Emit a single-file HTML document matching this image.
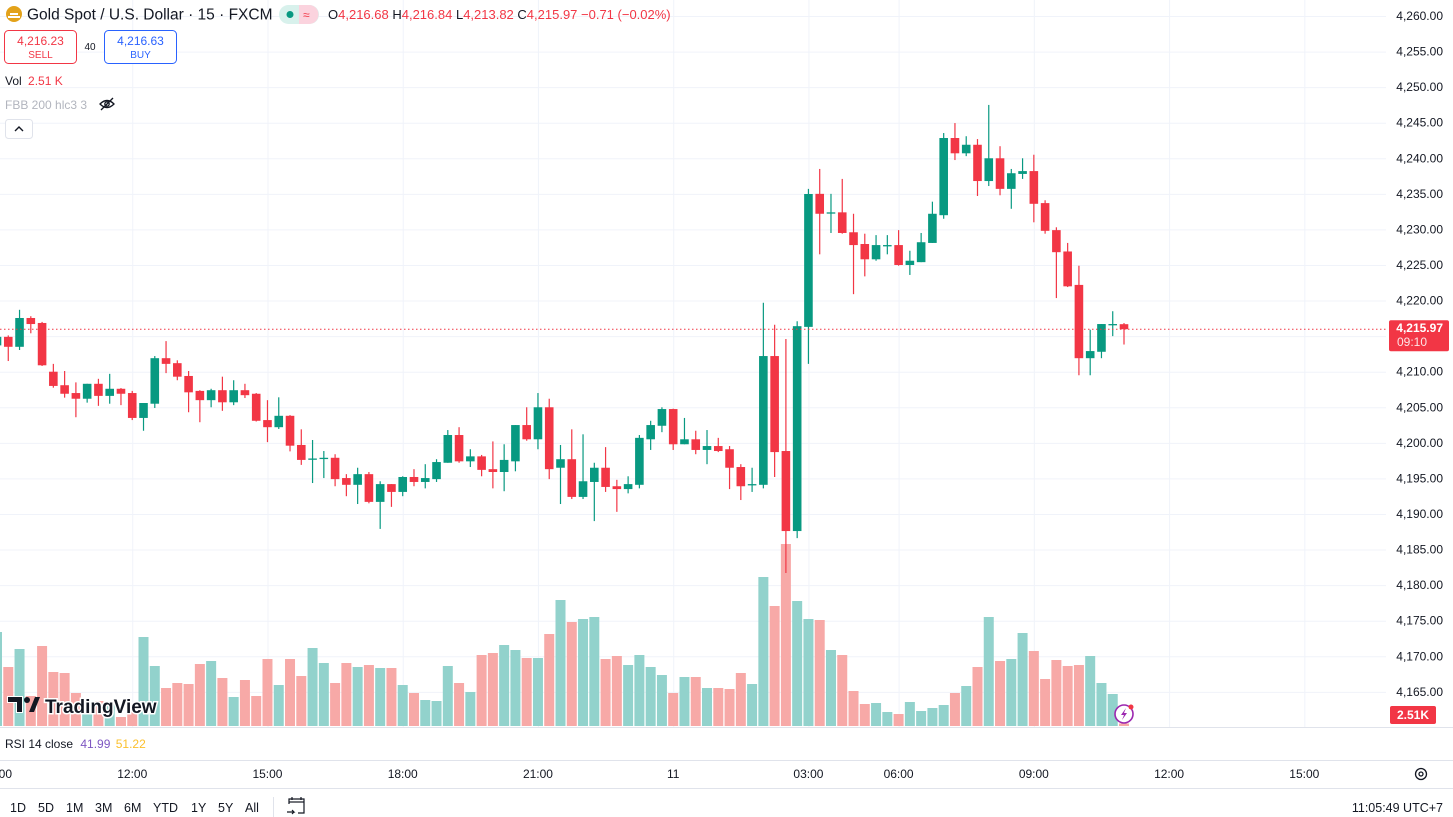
<!DOCTYPE html>
<html><head><meta charset="utf-8"><style>
html,body{margin:0;padding:0;background:#fff;overflow:hidden}
svg{display:block;font-family:"Liberation Sans",sans-serif}
</style></head><body>
<svg id="chart" width="1453" height="817" viewBox="0 0 1453 817" xmlns="http://www.w3.org/2000/svg">
<defs><clipPath id="pane"><rect x="0" y="0" width="1386" height="727"/></clipPath></defs>
<g id="grid"></g>
<g id="vols" clip-path="url(#pane)"></g>
<g id="candles" clip-path="url(#pane)"></g>
<g id="yaxis"></g>
<g id="xaxis"></g>

<g>
  <circle cx="14" cy="14" r="8" fill="#e3a21a"/>
  <rect x="10" y="13" width="8" height="2" fill="#fff"/><rect x="8" y="16" width="12" height="2" fill="#fff"/>
  <text x="27" y="19.5" font-size="15.5" fill="#131722">Gold Spot / U.S. Dollar · 15 · FXCM</text>
  <rect x="279" y="5" width="40" height="19" rx="9.5" fill="#d8f1ec"/>
  <path d="M299 5 h10 a9.5 9.5 0 0 1 0 19 h-10z" fill="#fbd3de"/>
  <circle cx="290" cy="14.5" r="3.5" fill="#089981"/>
  <text x="303" y="19" font-size="12" fill="#f23645">≈</text>
  <text x="328" y="19" font-size="13" fill="#131722">O<tspan fill="#f23645">4,216.68</tspan> H<tspan fill="#f23645">4,216.84</tspan> L<tspan fill="#f23645">4,213.82</tspan> C<tspan fill="#f23645">4,215.97 −0.71 (−0.02%)</tspan></text>
</g>
<g>
  <rect x="4.5" y="30.5" width="72" height="33" rx="4" fill="#fff" stroke="#f23645"/>
  <text x="40.5" y="45" font-size="12" fill="#f23645" text-anchor="middle">4,216.23</text>
  <text x="40.5" y="58" font-size="10" fill="#f23645" text-anchor="middle">SELL</text>
</g>
<text x="90" y="50" font-size="10" fill="#131722" text-anchor="middle">40</text>
<g>
  <rect x="104.5" y="30.5" width="72" height="33" rx="4" fill="#fff" stroke="#2962ff"/>
  <text x="140.5" y="45" font-size="12" fill="#2962ff" text-anchor="middle">4,216.63</text>
  <text x="140.5" y="58" font-size="10" fill="#2962ff" text-anchor="middle">BUY</text>
</g>
<text x="5" y="85" font-size="12" fill="#131722">Vol <tspan fill="#f23645" dx="3">2.51 K</tspan></text>
<text x="5" y="109" font-size="12" fill="#b2b5be">FBB 200 hlc3 3</text>
<g fill="none" stroke="#131722" stroke-width="1.3">
  <path d="M100 104 q7 -7 14 0 q-7 7 -14 0z"/><circle cx="107" cy="104" r="2.2"/><path d="M101 110 L113 98"/>
</g>
<g>
  <rect x="5.5" y="119.5" width="27" height="19" rx="3" fill="#fff" stroke="#e0e3eb"/>
  <path d="M15 131 l4 -4 l4 4" fill="none" stroke="#131722" stroke-width="1.4"/>
</g>
<g>
  <path d="M8 697 h14 v15 h-5 v-10 h-9z" fill="#131722" stroke="#fff" stroke-width="2" paint-order="stroke"/><circle cx="27" cy="700" r="3" fill="#131722"/><path d="M29 712 l6 -15 h5 l-6 15z" fill="#131722"/>
  <text x="45" y="713" font-size="19" font-weight="bold" fill="#131722" stroke="#fff" stroke-width="3" paint-order="stroke">TradingView</text>
</g>
<g>
  <circle cx="1124" cy="714" r="9" fill="#fff" stroke="#9c27b0" stroke-width="1.6"/>
  <path d="M1126 708 l-5 7 h3 l-2 5 l5 -7 h-3z" fill="#9c27b0"/><circle cx="1131" cy="707" r="2.5" fill="#f23645"/>
</g>
<line x1="0" y1="727.5" x2="1453" y2="727.5" stroke="#e0e3eb"/>
<text x="5" y="748" font-size="12" fill="#131722">RSI 14 close <tspan fill="#7e57c2" dx="4">41.99</tspan> <tspan fill="#fbc02d" dx="2">51.22</tspan></text>
<line x1="0" y1="760.5" x2="1453" y2="760.5" stroke="#e0e3eb"/>
<line x1="0" y1="788.5" x2="1453" y2="788.5" stroke="#e0e3eb"/>
<g fill="none" stroke="#131722" stroke-width="1.3">
  <circle cx="1421" cy="774" r="5.5"/><circle cx="1421" cy="774" r="2"/>
</g>
<g font-size="12.5" fill="#131722">
  <text x="10" y="812">1D</text>
  <text x="38" y="812">5D</text>
  <text x="66" y="812">1M</text>
  <text x="95" y="812">3M</text>
  <text x="124" y="812">6M</text>
  <text x="153" y="812">YTD</text>
  <text x="191" y="812">1Y</text>
  <text x="218" y="812">5Y</text>
  <text x="245" y="812">All</text>
</g>
<line x1="273.5" y1="797" x2="273.5" y2="817" stroke="#e0e3eb"/>
<g fill="none" stroke="#131722" stroke-width="1.2">
  <path d="M289 804 v-5 h15 v14 h-6"/><path d="M289 802 h15"/><path d="M292 797 v3 M301 797 v3"/><path d="M287 812 h7 l-2 -2 M294 812 l-2 2"/>
</g>
<text x="1443" y="812" font-size="12.5" fill="#131722" text-anchor="end">11:05:49 UTC+7</text>

<script>
const opens=[4213.7,4214.9,4213.5,4217.55,4216.85,4210.0,4208.1,4207.0,4206.2,4208.3,4206.6,4207.6,4207.0,4203.5,4205.5,4211.9,4211.2,4209.4,4207.3,4206.0,4207.4,4205.7,4207.4,4206.9,4203.2,4202.2,4203.8,4199.7,4197.7,4197.8,4197.9,4195.05,4194.1,4195.6,4191.7,4194.2,4193.1,4195.2,4194.5,4194.9,4197.2,4201.1,4197.4,4198.1,4196.3,4195.9,4197.4,4202.5,4200.5,4205.0,4196.5,4197.7,4192.4,4194.5,4196.5,4193.9,4193.5,4194.1,4200.5,4202.4,4204.75,4199.8,4200.5,4199.0,4199.55,4199.1,4196.6,4194.05,4194.1,4212.2,4198.85,4187.6,4216.3,4235.0,4232.3,4232.4,4229.6,4227.95,4225.8,4227.7,4227.8,4225.0,4225.4,4228.1,4232.0,4242.85,4240.7,4241.9,4236.8,4240.0,4235.7,4237.8,4238.2,4233.7,4229.9,4226.9,4222.2,4211.9,4212.8,4216.6,4216.68];
const highs=[4215.5,4215.1,4218.7,4217.8,4217.0,4211.1,4210.1,4208.5,4208.3,4209.0,4209.7,4207.7,4207.3,4205.6,4212.2,4214.3,4211.6,4210.1,4207.4,4207.6,4209.3,4208.8,4208.3,4207.0,4206.0,4206.4,4203.9,4201.9,4200.4,4198.85,4198.4,4195.6,4196.5,4195.9,4194.6,4194.2,4195.3,4196.3,4197.0,4197.7,4201.8,4202.2,4199.1,4198.3,4200.2,4199.8,4202.5,4205.0,4207.0,4206.2,4199.7,4201.9,4201.2,4197.2,4199.4,4194.8,4195.3,4201.1,4203.1,4205.0,4204.8,4203.5,4201.7,4201.8,4200.7,4199.55,4197.0,4196.5,4219.7,4216.6,4214.6,4217.1,4235.7,4238.5,4235.0,4237.1,4232.2,4229.4,4229.2,4229.2,4229.9,4227.0,4229.5,4233.9,4243.55,4244.95,4243.1,4242.7,4247.5,4241.7,4238.5,4240.0,4240.5,4234.1,4230.3,4228.1,4224.9,4215.9,4216.7,4218.5,4216.84];
const lows=[4213.0,4211.5,4213.05,4215.4,4210.8,4207.75,4206.35,4203.6,4205.65,4205.2,4205.5,4205.3,4203.2,4201.7,4204.9,4209.8,4208.8,4204.3,4202.9,4205.0,4204.5,4205.3,4206.3,4203.0,4200.1,4201.95,4198.8,4196.9,4194.35,4195.05,4193.9,4192.5,4191.4,4191.5,4187.9,4191.0,4192.5,4193.9,4193.6,4194.5,4197.2,4197.2,4196.6,4195.3,4193.6,4193.2,4196.0,4200.3,4199.1,4194.9,4191.4,4192.1,4192.1,4189.0,4193.1,4190.3,4192.9,4193.6,4199.0,4201.5,4199.0,4199.8,4198.4,4197.0,4198.7,4193.5,4191.96,4193.1,4193.6,4195.2,4181.7,4186.6,4211.1,4226.5,4229.5,4229.4,4220.9,4223.4,4225.6,4226.5,4224.9,4223.6,4225.4,4228.1,4231.5,4239.75,4240.3,4234.7,4236.1,4234.8,4232.9,4237.1,4231.0,4229.4,4220.35,4221.9,4209.5,4209.5,4211.9,4215.0,4213.82];
const closes=[4214.9,4213.5,4217.55,4216.7,4210.9,4208.0,4206.9,4206.2,4208.3,4206.6,4207.6,4206.9,4203.5,4205.6,4211.9,4211.1,4209.3,4207.1,4206.0,4207.4,4205.7,4207.4,4206.7,4203.1,4202.2,4203.8,4199.6,4197.6,4197.8,4197.9,4194.9,4194.1,4195.6,4191.7,4194.2,4193.1,4195.2,4194.5,4195.05,4197.3,4201.1,4197.4,4198.1,4196.2,4195.9,4197.6,4202.5,4200.5,4205.0,4196.3,4197.7,4192.4,4194.6,4196.5,4193.8,4193.5,4194.2,4200.7,4202.5,4204.75,4199.8,4200.5,4199.0,4199.55,4198.85,4196.5,4193.9,4194.2,4212.2,4198.7,4187.6,4216.4,4234.98,4232.2,4232.4,4229.5,4227.8,4225.8,4227.8,4227.8,4225.0,4225.6,4228.2,4232.2,4242.85,4240.7,4241.9,4236.8,4240.0,4235.7,4237.9,4238.2,4233.6,4229.8,4226.8,4222.0,4211.9,4212.9,4216.7,4216.7,4215.97];
const volumes=[94,59,77,30,80,54,53,33,25,25,22,9,22,89,60,38,43,42,62,65,48,29,46,30,67,41,67,50,78,63,43,63,59,61,58,58,41,33,26,25,60,43,34,71,73,81,76,68,68,92,126,104,107,109,67,70,61,71,59,51,33,49,49,38,38,37,53,42,149,120,182,125,107,106,76,71,35,22,23,14,12,24,15,18,21,33,40,59,109,65,67,93,75,47,66,60,61,70,43,32,2.51];
const priceTicks=[4260,4255,4250,4245,4240,4235,4230,4225,4220,4215,4210,4205,4200,4195,4190,4185,4180,4175,4170,4165];
const timeTickIdx=[0,12,24,36,48,60,72,80,92,104,116];
const timeTickLabels=["09:00","12:00","15:00","18:00","21:00","11","03:00","06:00","09:00","12:00","15:00"];
const lastPrice=4215.97;

const NS="http://www.w3.org/2000/svg";
const GREEN="#089981",RED="#f23645";
function xs(i){return -3+11.27*i;}
function ys(p){return 16+(4260-p)*7.114;}
function vs(v){return 726-v*1.0;}
function mk(tag,attrs,parent){const e=document.createElementNS(NS,tag);for(const k in attrs)e.setAttribute(k,attrs[k]);parent.appendChild(e);return e;}

const grid=document.getElementById('grid');
priceTicks.forEach(p=>{
  const l=mk('line',{x1:0,x2:1386,y1:ys(p)+0.5,y2:ys(p)+0.5,stroke:'#f0f3fa'},grid);
  
  
});
timeTickIdx.forEach(i=>{
  const l=mk('line',{x1:xs(i)+0.5,x2:xs(i)+0.5,y1:0,y2:727,stroke:'#f0f3fa'},grid);
  
  
});

const vg=document.getElementById('vols');
volumes.forEach((v,i)=>{
  const up=closes[i]>=opens[i];
  const r=mk('rect',{x:xs(i)-5,y:vs(v),width:10,height:726-vs(v),fill:up?'#92d2cc':'#f7a9a7'},vg);
  
  
});

const cg=document.getElementById('candles');
opens.forEach((o,i)=>{
  const c=closes[i],up=c>=o,col=up?GREEN:RED,x=xs(i);
  const g=mk('g',{},cg);
  
  
  mk('line',{x1:x,x2:x,y1:ys(highs[i]),y2:ys(lows[i]),stroke:col,'stroke-width':1.2},g);
  const top=ys(Math.max(o,c)),bot=ys(Math.min(o,c));
  mk('rect',{x:x-4.3,y:top,width:8.6,height:Math.max(1.3,bot-top),fill:col},g);
});
const pl=mk('line',{x1:0,x2:1386,y1:ys(lastPrice),y2:ys(lastPrice),stroke:RED,'stroke-dasharray':'1.5 2.5','stroke-width':1},cg);



const ya=document.getElementById('yaxis');
priceTicks.forEach(p=>{
  if(p===4215)return;
  const t=mk('text',{x:1443,y:ys(p)+4,'font-size':12,fill:'#131722','text-anchor':'end'},ya);
  t.textContent=p.toLocaleString('en-US',{minimumFractionDigits:2});
  
  
});
const pb=mk('g',{},ya);


mk('rect',{x:1389,y:ys(lastPrice)-9,width:60,height:31,rx:2,fill:RED},pb);
const t1=mk('text',{x:1443,y:ys(lastPrice)+3,'font-size':12,'font-weight':'bold',fill:'#fff','text-anchor':'end'},pb);
t1.textContent=lastPrice.toLocaleString('en-US',{minimumFractionDigits:2});
const t2=mk('text',{x:1397,y:ys(lastPrice)+17,'font-size':12,fill:'#fde4e6'},pb);
t2.textContent='09:10';
const vb=mk('g',{},ya);


mk('rect',{x:1390,y:706,width:46,height:18,rx:2,fill:RED},vb);
const t3=mk('text',{x:1413,y:719,'font-size':12,'font-weight':'bold',fill:'#fff','text-anchor':'middle'},vb);
t3.textContent=volumes[volumes.length-1]+'K';

const xa=document.getElementById('xaxis');
timeTickIdx.forEach((i,k)=>{
  const t=mk('text',{x:xs(i),y:778,'font-size':12,fill:'#131722','text-anchor':'middle'},xa);
  t.textContent=timeTickLabels[k];
  
  
});
</script>
</svg>
</body></html>
